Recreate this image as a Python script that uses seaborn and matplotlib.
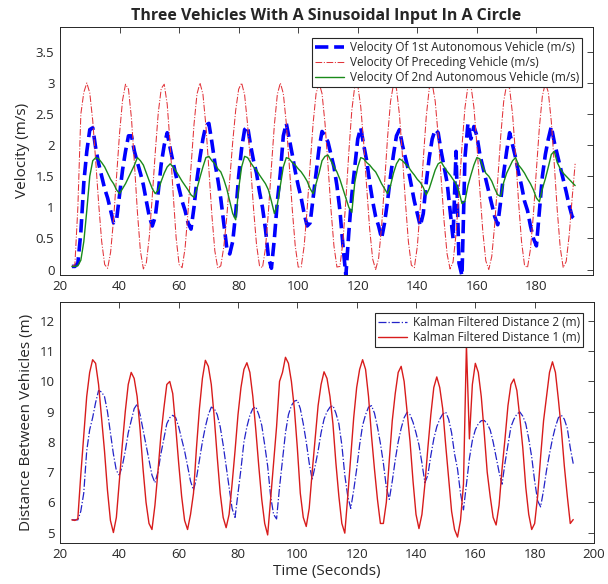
import numpy as np
import pandas as pd
import seaborn as sns
import matplotlib.pyplot as plt

# time axis (seconds), one reading per second
time_s = list(range(24, 194))

# top panel: velocities (m/s)
vel_preceding = [
    0.05, 0.08, 1.0, 2.5, 2.85, 3.0,
    2.84, 2.39, 1.74, 1.05, 0.45, 0.08,
    0.02, 0.28, 0.81, 1.50, 2.19, 2.72, 2.98,
    2.90, 2.43, 1.70, 0.92, 0.30, 0.01,
    0.11, 0.53, 1.18, 1.89, 2.52, 2.91,
    2.98, 2.66, 2.01, 1.22, 0.51, 0.08,
    0.03, 0.34, 0.93, 1.65, 2.33, 2.82, 3.0,
    2.82, 2.31, 1.61, 0.88, 0.30, 0.02,
    0.06, 0.36, 0.84, 1.44, 2.05, 2.56, 2.90,
    3.0, 2.81, 2.33, 1.68, 0.98, 0.40, 0.06,
    0.03, 0.34, 0.93, 1.65, 2.33, 2.82, 3.0,
    2.83, 2.35, 1.68, 0.97, 0.38, 0.04,
    0.04, 0.38, 0.97, 1.68, 2.35, 2.83, 3.0,
    2.83, 2.35, 1.68, 0.97, 0.38, 0.04,
    0.05, 0.44, 1.11, 1.89, 2.56, 2.95,
    2.96, 2.62, 2.03, 1.32, 0.65, 0.17, 0.0,
    0.18, 0.69, 1.39, 2.12, 2.70, 2.98,
    2.91, 2.49, 1.83, 1.09, 0.45, 0.07,
    0.03, 0.37, 1.01, 1.77, 2.46, 2.91,
    2.99, 2.71, 2.16, 1.46, 0.77, 0.25, 0.01,
    0.12, 0.57, 1.24, 1.98, 2.60, 2.95,
    2.96, 2.61, 2.01, 1.28, 0.61, 0.14,
    0.0, 0.21, 0.73, 1.43, 2.14, 2.70, 2.98,
    2.91, 2.49, 1.83, 1.09, 0.45, 0.07,
    0.03, 0.33, 0.90, 1.61, 2.29, 2.79, 3.0,
    2.85, 2.38, 1.69, 0.95, 0.35, 0.03,
    0.13, 0.55, 1.15, 1.7,
]

vel_auto1 = [
    0.05, 0.05, 0.1, 0.6, 1.4, 1.9, 2.25, 2.28, 1.95, 1.7,
    1.5, 1.3, 1.15, 0.95, 0.75, 0.8, 1.2, 1.6, 1.9, 2.15,
    2.15, 1.9, 1.72, 1.55, 1.36, 1.1, 0.85, 0.7, 0.85, 1.25,
    1.7, 2.0, 2.2, 1.95, 1.72, 1.5, 1.3, 1.1, 0.95, 0.75,
    0.65, 1.0, 1.45, 1.8, 2.1, 2.32, 2.35, 2.05, 1.72, 1.45,
    1.14, 0.75, 0.35, 0.25, 0.45, 0.9, 1.5, 1.95, 2.25, 2.3,
    2.0, 1.75, 1.55, 1.25, 1.0, 0.65, 0.2, 0.02, 0.5, 1.1,
    1.55, 2.15, 2.35, 2.1, 1.85, 1.58, 1.35, 1.15, 0.9, 0.7,
    0.75, 1.15, 1.55, 1.95, 2.22, 2.15, 2.05, 1.85, 1.65, 1.35,
    0.95, 0.4, -0.1, 0.6, 1.2, 1.65, 2.1, 2.28, 2.0, 1.75,
    1.4, 1.1, 0.85, 0.7, 0.5, 0.75, 1.1, 1.5, 1.85, 2.15,
    2.25, 2.0, 1.8, 1.6, 1.35, 1.1, 0.9, 0.7, 0.9, 1.4,
    1.8, 2.1, 2.25, 2.2, 1.9, 1.65, 1.4, 0.95, 0.5, 1.9,
    0.1, -0.1, 1.8, 2.35, 2.1, 2.3, 2.15, 1.85, 1.65, 1.45,
    1.25, 1.05, 0.85, 0.72, 1.1, 1.55, 1.9, 2.2, 2.0, 1.8,
    1.55, 1.35, 1.1, 0.95, 0.7, 0.5, 0.38, 0.95, 1.5, 1.85,
    2.1, 2.3, 2.05, 1.85, 1.65, 1.45, 1.25, 1.03, 0.85, 0.8,
]

vel_auto2 = [
    0.05, 0.05, 0.06, 0.15, 0.45, 0.95, 1.5, 1.75, 1.8, 1.78,
    1.72, 1.65, 1.55, 1.45, 1.38, 1.28, 1.22, 1.3, 1.38, 1.48,
    1.58, 1.68, 1.8, 1.75, 1.68, 1.55, 1.42, 1.3, 1.22, 1.28,
    1.42, 1.55, 1.65, 1.7, 1.65, 1.58, 1.5, 1.42, 1.35, 1.28,
    1.2, 1.16, 1.3, 1.48, 1.65, 1.8, 1.82, 1.75, 1.7, 1.62,
    1.57, 1.45, 1.3, 1.1, 0.9, 0.8, 1.3, 1.65, 1.82, 1.8,
    1.72, 1.65, 1.6, 1.52, 1.45, 1.38, 1.28, 1.1, 0.9, 1.05,
    1.35, 1.65, 1.8, 1.78, 1.72, 1.68, 1.62, 1.57, 1.5, 1.42,
    1.3, 1.22, 1.38, 1.55, 1.75, 1.82, 1.84, 1.75, 1.65, 1.57,
    1.45, 1.3, 1.15, 1.0, 0.92, 1.4, 1.65, 1.8, 1.78, 1.72,
    1.68, 1.62, 1.57, 1.48, 1.38, 1.3, 1.22, 1.35, 1.55, 1.7,
    1.78, 1.75, 1.7, 1.65, 1.58, 1.52, 1.45, 1.4, 1.32, 1.2,
    1.3, 1.45, 1.6, 1.7, 1.73, 1.65, 1.58, 1.52, 1.45, 1.38,
    1.25, 1.06, 1.1, 1.35, 1.52, 1.68, 1.8, 1.78, 1.65, 1.55,
    1.5, 1.42, 1.3, 1.2, 1.18, 1.4, 1.55, 1.65, 1.75, 1.8,
    1.68, 1.62, 1.55, 1.46, 1.38, 1.28, 1.15, 1.09, 1.3, 1.46,
    1.65, 1.85, 1.9, 1.72, 1.62, 1.55, 1.5, 1.45, 1.4, 1.35,
]

# bottom panel: distances (m)
dist_1 = [
    5.42, 5.4, 5.45, 6.9, 8.2, 9.5, 10.3, 10.72, 10.6, 9.9,
    8.8, 7.7, 6.4, 5.4, 5.0, 5.5, 6.7, 7.9, 9.0, 9.9,
    10.3, 10.1, 9.5, 8.4, 7.1, 6.0, 5.3, 5.1, 5.9, 7.0,
    8.2, 9.1, 9.9, 10.0, 9.6, 8.5, 7.3, 6.2, 5.4, 5.1,
    5.6, 6.3, 7.8, 9.1, 10.1, 10.7, 10.5, 9.9, 8.8, 7.5,
    6.3, 5.5, 5.16, 5.6, 6.6, 7.7, 8.9, 9.8, 10.4, 10.62,
    10.3, 9.5, 8.4, 7.2, 6.1, 5.3, 4.92, 6.1, 7.3, 8.5,
    10.0, 10.3, 10.8, 10.6, 10.0, 9.1, 7.8, 6.3, 5.5, 5.2,
    5.8, 7.0, 8.1, 9.2, 9.9, 10.32, 10.1, 9.5, 8.6, 7.3,
    6.2, 5.3, 4.98, 6.2, 7.5, 8.8, 9.8, 10.4, 10.72, 10.4,
    9.5, 8.2, 7.1, 6.1, 5.3, 5.3, 6.0, 7.4, 8.7, 9.6,
    10.3, 10.5, 10.0, 9.0, 8.0, 6.7, 5.6, 5.13, 5.6, 6.6,
    7.8, 8.9, 9.8, 10.15, 9.8, 9.1, 7.9, 6.8, 5.7, 5.1,
    4.85, 5.4, 6.6, 11.2, 8.1, 9.9, 10.6, 10.3, 9.5, 8.3,
    7.0, 6.2, 5.5, 5.25, 5.9, 7.1, 8.1, 9.2, 9.9, 10.08,
    9.7, 8.8, 7.8, 6.5, 5.6, 5.1, 5.3, 6.2, 7.5, 8.7,
    9.5, 10.3, 10.65, 10.3, 9.4, 8.4, 7.2, 6.2, 5.3, 5.43,
]

dist_2 = [
    5.42, 5.42, 5.42, 5.7, 6.3, 7.7, 8.4, 8.8, 9.3, 9.7,
    9.65, 9.5, 9.0, 8.3, 7.6, 7.05, 6.9, 7.2, 7.7, 8.3,
    8.7, 9.1, 9.25, 8.9, 8.4, 7.9, 7.4, 6.9, 6.65, 7.0,
    7.6, 8.1, 8.6, 8.8, 8.88, 8.8, 8.5, 8.1, 7.7, 7.2,
    6.7, 6.4, 6.8, 7.4, 8.0, 8.5, 8.9, 9.15, 9.1, 8.9,
    8.5, 7.9, 7.2, 6.5, 5.8, 5.5, 6.3, 7.1, 8.0, 8.5,
    8.88, 9.1, 9.16, 8.9, 8.55, 7.9, 7.2, 6.2, 5.6, 5.45,
    6.5, 7.4, 8.3, 8.9, 9.2, 9.35, 9.38, 9.1, 8.6, 8.0,
    7.3, 6.75, 7.2, 7.7, 8.3, 8.75, 9.0, 9.15, 9.2, 8.95,
    8.6, 7.9, 6.9, 6.2, 5.8, 6.4, 7.1, 7.9, 8.55, 8.9,
    9.15, 9.2, 8.95, 8.5, 7.95, 7.3, 6.5, 6.1, 6.7, 7.4,
    8.0, 8.45, 8.8, 8.98, 8.9, 8.65, 8.3, 7.9, 7.3, 6.65,
    6.9, 7.55, 8.1, 8.5, 8.75, 8.92, 8.99, 8.75, 8.3, 7.6,
    7.1, 6.3, 5.75, 6.6, 7.45, 8.05, 8.4, 8.6, 8.7, 8.71,
    8.6, 8.4, 8.0, 7.5, 7.0, 6.6, 7.3, 7.9, 8.5, 8.75,
    8.92, 8.99, 8.85, 8.6, 8.1, 7.5, 6.7, 6.05, 5.85, 6.4,
    7.06, 7.6, 8.1, 8.5, 8.8, 8.88, 8.75, 8.45, 7.8, 7.28,
]

for arr in (vel_preceding, vel_auto1, vel_auto2, dist_1, dist_2):
    assert len(arr) == len(time_s), len(arr)

vel_ticks = [0, 0.5, 1, 1.5, 2, 2.5, 3, 3.5]
vel_ticklabels = ['0', '0.5', '1', '1.5', '2', '2.5', '3', '3.5']
dist_ticks = [5, 6, 7, 8, 9, 10, 11, 12]
top_xticks = [20, 40, 60, 80, 100, 120, 140, 160, 180]
bot_xticks = [20, 40, 60, 80, 100, 120, 140, 160, 180, 200]

sns.set_style('white')
plt.rcParams['font.family'] = ['Open Sans', 'DejaVu Sans']
grey = '#262626'

fig = plt.figure(figsize=(6.08, 5.84), dpi=100)
ax1 = fig.add_axes([60/608, (584-274.5)/584, 533/608, 247.5/584])
ax2 = fig.add_axes([60/608, (584-542.5)/584, 534/608, 240.5/584])

sns.lineplot(x=time_s, y=vel_auto1, ax=ax1, color='#0000ff', lw=2.6,
             linestyle='--', label='Velocity Of 1st Autonomous Vehicle (m/s)')
sns.lineplot(x=time_s, y=vel_preceding, ax=ax1, color='#e2343a', lw=0.75,
             linestyle='-.', label='Velocity Of Preceding Vehicle (m/s)')
sns.lineplot(x=time_s, y=vel_auto2, ax=ax1, color='#1a8a1a', lw=1.0,
             label='Velocity Of 2nd Autonomous Vehicle (m/s)')

sns.lineplot(x=time_s, y=dist_2, ax=ax2, color='#2323c8', lw=0.9,
             linestyle='-.', label='Kalman Filtered Distance 2 (m)')
sns.lineplot(x=time_s, y=dist_1, ax=ax2, color='#d81c1c', lw=1.0,
             label='Kalman Filtered Distance 1 (m)')

ax1.set_xlim(20, 199)
ax1.set_ylim(-0.08, 3.9)
ax1.set_xticks(top_xticks)
ax1.set_yticks(vel_ticks)
ax1.set_yticklabels(vel_ticklabels)
ax1.set_ylabel('Velocity (m/s)', fontsize=11, color=grey)
ax1.set_xlabel('')
ax1.set_title('Three Vehicles With A Sinusoidal Input In A Circle',
              fontsize=11.5, fontweight='bold', pad=5)

ax2.set_xlim(20, 200)
ax2.set_ylim(4.67, 12.63)
ax2.set_xticks(bot_xticks)
ax2.set_yticks(dist_ticks)
ax2.set_xlabel('Time (Seconds)', fontsize=11, color=grey, labelpad=2)
ax2.set_ylabel('Distance Between Vehicles (m)', fontsize=11, color=grey)

for ax in (ax1, ax2):
    ax.tick_params(direction='in', length=4, width=0.6, top=True, right=True,
                   labelsize=9.5, colors=grey, pad=4)
    for sp in ax.spines.values():
        sp.set_color(grey)
        sp.set_linewidth(0.7)
    leg = ax.legend(loc='upper right', fontsize=8.5, frameon=True, fancybox=False,
                    framealpha=1, edgecolor=grey, borderaxespad=0.9,
                    labelspacing=0.15, handlelength=2.4, handletextpad=0.5,
                    borderpad=0.3)
    leg.get_frame().set_linewidth(0.8)

fig.savefig('out.png', dpi=100)
